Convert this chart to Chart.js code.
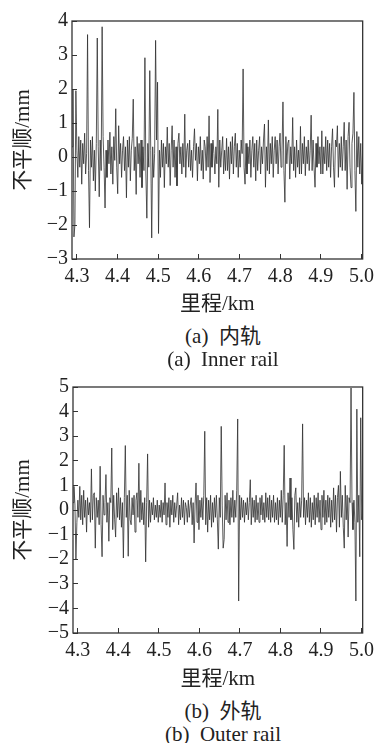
<!DOCTYPE html>
<html>
<head>
<meta charset="utf-8">
<script src="https://cdn.jsdelivr.net/npm/chart.js@4.4.1/dist/chart.umd.min.js"></script>
<style>
  body { margin: 0; background: #fff; width: 385px; height: 743px; position: relative; overflow: hidden; }
  canvas { position: absolute; left: 0; }
  .cap {
    position: absolute; left: 72px; width: 302px; text-align: center;
    font-family: 'Liberation Serif', 'Noto Sans CJK SC', serif;
    font-size: 21px; line-height: 1; white-space: pre; color: #222;
  }
</style>
</head>
<body>
<canvas id="innerChart" width="385" height="320" style="top:0"></canvas>
<canvas id="outerChart" width="385" height="335" style="top:360px"></canvas>
<div class="cap" style="top:326px">(a)  内轨</div>
<div class="cap" style="top:349px">(a)  Inner rail</div>
<div class="cap" style="top:701px">(b)  外轨</div>
<div class="cap" style="top:724px">(b)  Outer rail</div>
<script>
const KM_START = 4.288;
const KM_END = 5.003;
const xTicks = [4.3, 4.4, 4.5, 4.6, 4.7, 4.8, 4.9, 5.0];
const innerTicks = [-3, -2, -1, 0, 1, 2, 3, 4];
const outerTicks = [-5, -4, -3, -2, -1, 0, 1, 2, 3, 4, 5];

// 内轨 irregularity, mm (evenly spaced along the mileage)
const innerRail = [
  0.3, 2.0, -2.35, -2.0, 1.95, 0.2, -0.6, 0.6, -0.3, 0.5,
  -0.8, 0.4, -0.2, 0.7, -0.5, 0.1, 3.6, -0.4, -2.08, 0.5,
  -0.3, 0.6, -0.7, 0.2, -1.0, 0.4, 3.5, 0.3, -1.17, 0.5,
  -0.4, 3.83, 0.6, -0.3, -1.5, 0.2, -0.6, 0.5, -0.2, 0.73,
  -0.5, 0.3, -0.8, 0.6, -0.1, 1.42, -0.3, -1.08, 0.92, -0.2,
  0.4, -0.6, 0.2, 0.6, -0.4, 0.3, -1.2, 0.5, -0.3, 0.6,
  -0.7, 0.2, 0.55, 1.7, -0.4, 0.3, -1.1, 0.6, -0.2, 0.4,
  -0.6, 0.5, -0.9, 0.3, -0.4, 2.92, -0.5, -1.8, 0.4, -0.3,
  2.54, 0.2, -2.38, 0.3, -0.6, 0.1, 3.43, 0.5, 2.2, -2.25,
  0.2, -0.6, 0.5, -0.3, 0.4, -0.9, 0.3, -0.2, 0.88, -0.3,
  0.4, -0.84, 0.2, 0.92, -0.3, 0.5, -0.6, 0.3, -0.85, 0.4,
  0.7, -0.2, 0.3, -0.5, 0.4, -0.3, 1.26, -0.6, 0.2, 0.4,
  -0.3, 0.5, -0.4, 0.2, -0.6, 0.3, 0.83, -0.1, 0.4, -0.7,
  0.3, -0.2, 0.6, -0.4, 0.2, -0.65, 0.5, 0.3, -0.4, 0.6,
  -0.3, 1.21, -0.75, 0.4, -0.3, 0.5, 0.1, -0.5, 0.3, -0.2,
  1.4, -0.89, 0.5, -0.3, 0.2, 0.6, -0.5, 0.2, -0.4, 0.55,
  -0.4, 0.3, -0.65, 0.45, -0.2, 0.6, -0.5, 0.3, 0.7, -0.3,
  0.4, -0.6, 0.2, -0.3, 0.5, 0.1, 2.59, -0.3, -0.8, 0.4,
  -0.5, 0.3, -0.2, 0.5, -0.6, 0.2, 0.6, -0.3, 0.4, -0.7,
  0.5, -0.4, 0.2, 0.6, -0.5, 0.3, -0.2, 0.5, 0.97, -0.89,
  0.3, -0.4, 1.09, -0.5, 0.4, -0.2, 0.6, -0.6, 0.2, 0.6,
  -0.2, 0.5, -0.5, 0.3, 0.7, -0.3, 0.2, 1.62, -0.4, -1.33,
  0.6, -0.2, 0.4, 0.5, -0.65, 0.3, -0.2, 1.16, -0.4, 0.3,
  -0.6, 0.5, -0.3, 0.2, -0.5, 0.9, -0.5, 0.4, -0.2, 0.6,
  -0.55, 0.3, -0.2, 0.5, -0.4, 0.2, 1.23, -0.4, 0.5, -0.3,
  -0.89, 0.4, -0.3, 0.6, -0.2, 0.3, -0.5, 0.77, -0.5, 0.3,
  -0.2, 0.6, -0.4, 0.5, -0.3, 0.4, -0.6, 0.3, 0.83, -0.3,
  -0.89, 0.5, 0.3, 0.92, -0.6, 0.4, -0.3, 0.6, -0.4, 0.3,
  1.02, -0.4, 0.5, -0.95, 0.6, 1.02, -0.3, -0.9, 0.4, 0.7,
  1.9, -0.4, -1.6, 0.75, -0.3, 0.6, -0.5, 0.4, -0.8, 0.3
];

// 外轨 irregularity, mm
const outerRail = [
  0.3, 0.96, 0.2, -2.0, -0.5, 0.4, -0.3, 0.96, -0.4, 0.6,
  -0.6, 0.8, -0.3, 0.4, -0.9, 0.5, -0.2, 0.3, -0.5, 1.67,
  -0.4, 0.6, 0.7, -1.55, 0.5, -0.3, 0.4, -0.6, 1.78, -0.6,
  -1.9, 0.6, -0.2, 0.3, 1.44, -0.5, 0.3, -1.27, 0.5, 0.3,
  2.52, -0.8, 0.6, -0.4, -1.1, 0.7, -0.3, 0.9, -0.4, 0.5,
  -0.7, 0.3, -1.95, 0.5, 2.62, -0.3, 0.6, -1.88, 0.8, -0.4,
  -0.6, 0.5, -0.2, 0.6, -0.9, 0.4, 0.7, -0.3, 1.9, -0.5,
  0.8, -0.4, 0.3, -0.6, 0.5, -2.11, 0.3, 2.28, -0.7, 0.4,
  -0.5, 0.3, -0.2, 0.5, -0.4, 0.2, -0.3, 0.4, -0.5, 0.2,
  -0.3, 0.4, -0.5, 0.3, -0.2, 1.1, -0.6, 0.3, -0.3, 0.5,
  -0.7, 0.4, -0.2, 0.6, -0.5, 0.3, -0.3, 0.2, 0.7, -0.6,
  0.2, -0.4, 0.5, -0.3, 0.4, -0.6, 0.3, 0.1, -0.5, 0.4,
  -0.3, 0.2, 0.5, -0.6, 0.3, -1.34, 0.2, 1.1, -0.5, 0.6,
  -0.8, 0.4, -0.3, 0.5, -0.4, 0.6, 3.2, -0.6, 0.5, -0.9,
  0.4, -0.4, 0.6, -0.7, 0.3, -0.5, 0.5, -0.3, 0.6, -0.4,
  -1.59, 0.5, -0.3, 3.4, 0.2, -1.55, -1.2, 0.6, -0.4, 0.7,
  -0.5, 0.4, -0.6, 0.5, -0.3, 0.8, -0.5, 0.4, -0.3, 0.8,
  3.7, -3.7, 0.6, -0.4, 0.5, -0.3, 0.4, -0.5, 0.3, -0.2,
  0.5, -0.4, 0.3, 1.23, -0.6, 0.5, -0.3, 0.4, -0.5, 0.6,
  -0.4, 0.3, -0.5, 0.5, -0.2, 0.6, -0.4, 0.3, -0.5, 0.7,
  -0.3, 0.5, -0.4, 0.6, -0.5, 0.4, -0.3, 0.6, -0.5, 0.3,
  -0.4, 0.5, -0.6, 0.4, -0.3, 0.8, -0.5, 0.6, 2.63, -0.6,
  0.3, -1.48, 0.7, -0.3, 1.3, -0.4, 0.5, -0.8, -1.6, 0.6,
  0.9, -0.5, 0.3, -0.7, 0.5, -0.3, 0.4, 3.5, -0.3, 0.5,
  -0.6, 0.4, -0.3, 0.7, -0.5, 0.5, -0.7, 0.3, -0.4, 0.6,
  -0.6, 0.5, -0.3, 0.7, -0.5, 0.4, -0.8, 0.6, -0.3, 0.8,
  -0.6, 0.4, -0.5, 0.6, -0.3, 0.5, -0.7, 0.4, -0.5, 0.9,
  -0.4, 0.6, -0.9, 0.5, 1.0, -0.7, 1.57, -0.3, 0.6, -0.7,
  -1.55, 1.0, -0.4, 0.6, -1.1, 0.5, 0.3, 4.96, 0.3, -0.8,
  0.4, -0.5, -3.7, 4.1, -0.5, 0.6, -1.9, 3.75, -0.4, 0.2
];

const SERIF = "'Liberation Serif', 'Noto Sans CJK SC', serif";
const INK = '#222';

function toPoints(values) {
  const step = (KM_END - KM_START) / (values.length - 1);
  return values.map((y, i) => ({ x: KM_START + i * step, y: y }));
}

const framePlugin = {
  id: 'frame',
  afterDraw(chart) {
    const { ctx, chartArea: a } = chart;
    ctx.save();
    ctx.strokeStyle = '#333';
    ctx.lineWidth = 1.3;
    ctx.strokeRect(a.left, a.top, a.right - a.left, a.bottom - a.top);
    ctx.restore();
  }
};

function createRailChart(id, values, yTicks, opts) {
  return new Chart(document.getElementById(id), {
    type: 'line',
    data: {
      datasets: [{
        data: toPoints(values),
        borderColor: '#303030',
        borderWidth: 0.8,
        pointRadius: 0,
        tension: 0
      }]
    },
    options: {
      responsive: false,
      animation: false,
      devicePixelRatio: 1,
      layout: { padding: { left: 0, right: 11, top: opts.top, bottom: 0 } },
      plugins: { legend: { display: false }, tooltip: { enabled: false } },
      scales: {
        x: {
          type: 'linear',
          min: KM_START,
          max: KM_END,
          border: { display: false },
          grid: { drawOnChartArea: false, tickLength: -5, color: '#333', lineWidth: 1 },
          afterBuildTicks: s => { s.ticks = xTicks.map(v => ({ value: v })); },
          afterFit: s => { s.height = opts.xHeight; },
          ticks: {
            autoSkip: false, maxRotation: 0, padding: 11, color: INK,
            font: { family: SERIF, size: 20 },
            callback: v => v.toFixed(1)
          },
          title: {
            display: true, text: '里程/km', color: INK,
            font: { family: SERIF, size: 21 },
            padding: { top: 0, bottom: 3 }
          }
        },
        y: {
          min: yTicks[0],
          max: yTicks[yTicks.length - 1],
          border: { display: false },
          grid: { drawOnChartArea: false, tickLength: -5, color: '#333', lineWidth: 1 },
          afterBuildTicks: s => { s.ticks = yTicks.map(v => ({ value: v })); },
          afterFit: s => { s.width = opts.left; },
          ticks: {
            autoSkip: false, padding: 9, color: INK,
            font: { family: SERIF, size: 20 },
            callback: v => String(v).replace('-', '\u2212')
          },
          title: {
            display: true, text: '不平顺/mm', color: INK,
            font: { family: SERIF, size: 21 },
            padding: { top: 11, bottom: 0 }
          }
        }
      }
    },
    plugins: [framePlugin]
  });
}

createRailChart('innerChart', innerRail, innerTicks, { top: 14, left: 72, xHeight: 61 });
createRailChart('outerChart', outerRail, outerTicks, { top: 27, left: 73, xHeight: 62 });
</script>
</body>
</html>
